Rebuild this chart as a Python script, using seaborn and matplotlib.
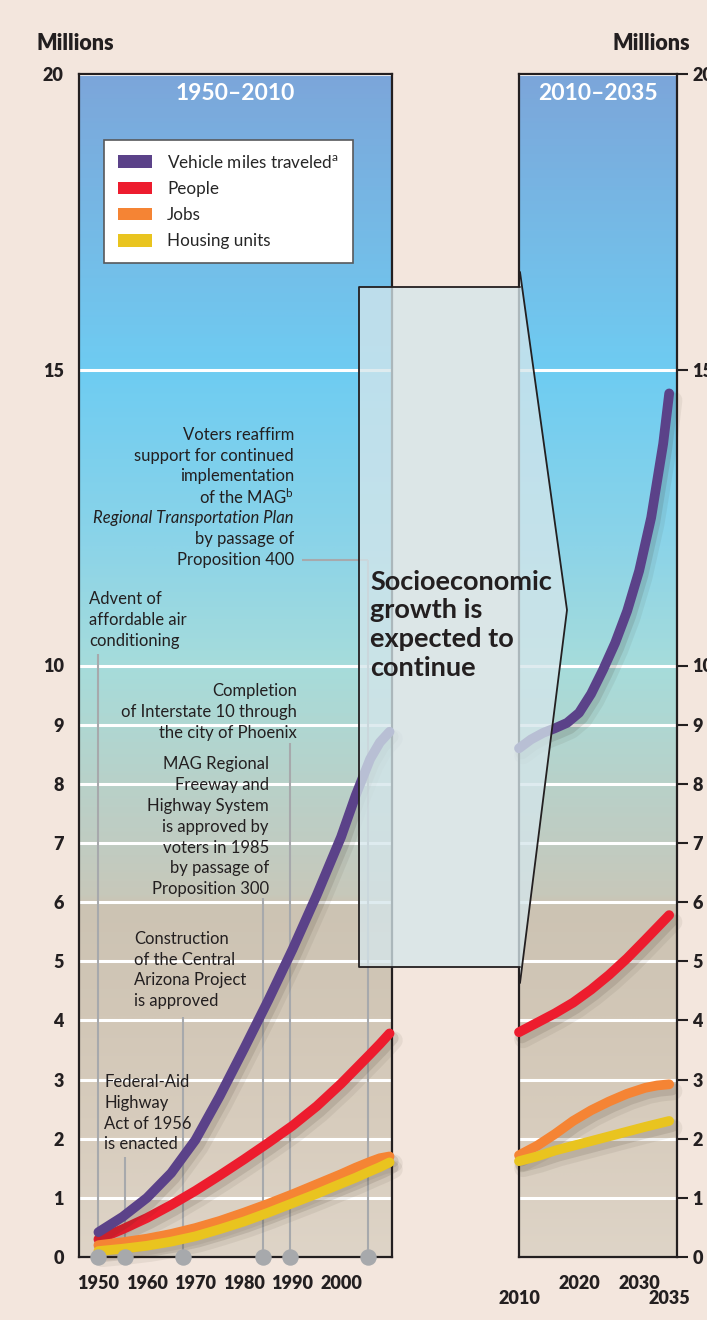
import numpy as np
import pandas as pd
import seaborn as sns
import matplotlib.pyplot as plt
import matplotlib.patheffects as pe
from matplotlib.colors import LinearSegmentedColormap
from matplotlib.patches import Polygon, Patch
from matplotlib.lines import Line2D

# ---- data (millions) ----
left_years = [1950, 1955, 1960, 1965, 1970, 1975, 1980, 1985, 1990, 1995, 2000, 2003, 2006, 2008, 2010]
vmt_left = [0.42, 0.68, 1.0, 1.42, 1.98, 2.72, 3.52, 4.34, 5.2, 6.12, 7.1, 7.8, 8.42, 8.7, 8.88]
people_left = [0.3, 0.47, 0.66, 0.88, 1.12, 1.38, 1.65, 1.93, 2.22, 2.55, 2.93, 3.18, 3.43, 3.6, 3.78]
jobs_left = [0.2, 0.25, 0.31, 0.39, 0.49, 0.61, 0.75, 0.9, 1.06, 1.23, 1.4, 1.51, 1.61, 1.67, 1.7]
housing_left = [0.1, 0.14, 0.19, 0.26, 0.35, 0.47, 0.6, 0.75, 0.91, 1.07, 1.24, 1.34, 1.45, 1.52, 1.6]

vmt_right_years = [2010, 2012, 2014, 2016, 2018, 2020, 2022, 2024, 2026, 2028, 2030, 2032, 2034, 2035]
vmt_right = [8.6, 8.75, 8.86, 8.94, 9.03, 9.2, 9.52, 9.93, 10.38, 10.92, 11.6, 12.5, 13.75, 14.6]
right_years = [2010, 2013, 2016, 2019, 2022, 2025, 2028, 2031, 2033, 2035]
people_right = [3.8, 3.96, 4.12, 4.3, 4.52, 4.77, 5.05, 5.36, 5.57, 5.78]
jobs_right = [1.72, 1.88, 2.08, 2.3, 2.48, 2.63, 2.76, 2.86, 2.9, 2.92]
housing_right = [1.62, 1.7, 1.8, 1.88, 1.96, 2.04, 2.12, 2.2, 2.25, 2.3]

series_names = ['Vehicle miles traveled$^{\\mathrm{a}}$', 'People', 'Jobs', 'Housing units']
series_colors = ['#5B4289', '#ED1C2E', '#F58434', '#E9C41F']

ytick_vals = [0, 1, 2, 3, 4, 5, 6, 7, 8, 9, 10, 15, 20]

# milestone markers on the time axis
ann_years = [1950, 1955.5, 1967.5, 1984, 1989.5, 2005.5]
ann_tops = [10.2, 1.69, 4.06, 6.07, 8.69, 11.78]

sns.set_style('white')
plt.rcParams['font.family'] = ['Lato', 'DejaVu Sans']
plt.rcParams['mathtext.fontset'] = 'custom'
plt.rcParams['mathtext.rm'] = 'Lato'
plt.rcParams['mathtext.it'] = 'Lato:italic'
plt.rcParams['mathtext.bf'] = 'Lato:bold'

ink = '#231F20'
bg = '#F3E6DD'
W, H = 707, 1320

fig = plt.figure(figsize=(W / 100, H / 100), dpi=100, facecolor=bg)


def px_rect(x0, y0, x1, y1):
    return [x0 / W, 1 - y1 / H, (x1 - x0) / W, (y1 - y0) / H]


ax1 = fig.add_axes(px_rect(79, 74, 392, 1257))
ax2 = fig.add_axes(px_rect(519, 74, 677, 1257))

stops = [(0, '#DED4C7'), (2, '#D8CDBE'), (4, '#D2C7B7'), (5.9, '#CCC3B3'), (6.1, '#C7C8BA'),
         (7, '#C0CCC2'), (8, '#B8D1C9'), (9, '#AFD7D2'), (10, '#A6DCDB'), (12, '#8CD4E8'),
         (15, '#6ECCF2'), (17, '#74BDE8'), (20, '#7CA6DA')]
cmap = LinearSegmentedColormap.from_list('sky', [(v / 20, c) for v, c in stops])
grad = np.linspace(0, 1, 400).reshape(-1, 1)


def style_axis(ax, xlim):
    ax.imshow(grad, extent=[xlim[0], xlim[1], 0, 20], origin='lower', aspect='auto',
              cmap=cmap, zorder=0)
    ax.set_xlim(xlim)
    ax.set_ylim(0, 20)
    ax.set_yticks(ytick_vals, labels=[str(v) for v in ytick_vals])
    ax.grid(axis='y', color='white', lw=2.2)
    ax.grid(axis='x', visible=False)
    ax.set_axisbelow(True)
    for s in ax.spines.values():
        s.set_visible(True)
        s.set_color(ink)
        s.set_linewidth(1.6)
    ax.tick_params(axis='both', which='both', direction='out', color=ink, width=1.5,
                   labelsize=13, labelcolor=ink)
    ax.set_xlabel('')
    ax.set_ylabel('')


style_axis(ax1, (1946, 2010.5))
style_axis(ax2, (2010, 2036.3))

shadow = [pe.SimpleLineShadow(offset=(3, -5), shadow_color='#3a2e20', alpha=0.07, linewidth=13),
          pe.SimpleLineShadow(offset=(2, -3.5), shadow_color='#3a2e20', alpha=0.12, linewidth=9),
          pe.Normal()]

order = [1, 0, 2, 3]
left_vals = [vmt_left, people_left, jobs_left, housing_left]
right_sets = [(vmt_right_years, vmt_right), (right_years, people_right),
              (right_years, jobs_right), (right_years, housing_right)]
for k, i in enumerate(order):
    sns.lineplot(x=left_years, y=left_vals[i], ax=ax1, color=series_colors[i], lw=7,
                 solid_capstyle='round', solid_joinstyle='round', path_effects=shadow,
                 zorder=3 + k * 0.1, legend=False, clip_on=False)
    xs, ys = right_sets[i]
    sns.lineplot(x=xs, y=ys, ax=ax2, color=series_colors[i], lw=7,
                 solid_capstyle='round', solid_joinstyle='round', path_effects=shadow,
                 zorder=3 + k * 0.1, legend=False, clip_on=False)

# milestone lines and dots
gray = '#A7A9AC'
ax1.vlines(ann_years, 0, ann_tops, color=gray, lw=1.5, zorder=2)
ax1.hlines(ann_tops[-1], 1992.0, ann_years[-1], color=gray, lw=1.5, zorder=2)
ax1.scatter(ann_years, [0] * len(ann_years), s=140, color=gray, zorder=6, clip_on=False,
            linewidths=0)

# annotation text
step = 0.352


def block(x, y0, lines, ha, italic=()):
    for i, ln in enumerate(lines):
        ax1.text(x, y0 - i * step, ln, ha=ha, va='center', fontsize=12, color=ink,
                 style='italic' if i in italic else 'normal', zorder=5)


block(1990.3, 13.9, ['Voters reaffirm', 'support for continued', 'implementation',
                     'of the MAG$^{\\mathrm{b}}$', 'Regional Transportation Plan',
                     'by passage of', 'Proposition 400'], 'right', italic=(4,))
block(1948.1, 11.12, ['Advent of', 'affordable air', 'conditioning'], 'left')
block(1990.9, 9.57, ['Completion', 'of Interstate 10 through', 'the city of Phoenix'], 'right')
block(1985.15, 8.33, ['MAG Regional', 'Freeway and', 'Highway System', 'is approved by',
                      'voters in 1985', 'by passage of', 'Proposition 300'], 'right')
block(1957.3, 5.38, ['Construction', 'of the Central', 'Arizona Project', 'is approved'], 'left')
block(1951.2, 2.96, ['Federal-Aid', 'Highway', 'Act of 1956', 'is enacted'], 'left')

# legend
handles = [Patch(facecolor=c, edgecolor='none', label=n) for c, n in zip(series_colors, series_names)]
leg = ax1.legend(handles=handles, loc='upper left', bbox_to_anchor=(25 / 313, 1117 / 1183),
                 frameon=True, fancybox=False, framealpha=1, edgecolor='#58595B',
                 fontsize=12.3, handlelength=2.0, handleheight=0.75, labelspacing=0.6,
                 borderpad=0.8, handletextpad=0.9, borderaxespad=0)
leg.get_frame().set_linewidth(1.2)
leg.set_zorder(7)

# axes ticks
ax1.set_xticks(list(range(1950, 2011, 10)), labels=['1950', '1960', '1970', '1980', '1990', '2000', ''])
ax1.tick_params(axis='x', length=8, pad=5)
ax1.tick_params(axis='y', length=8, pad=3)

ax2.set_xticks([2020, 2030], labels=['2020', '2030'])
ax2.set_xticks([2010, 2035], labels=['2010', '2035'], minor=True)
ax2.tick_params(axis='x', which='major', length=8, pad=5)
ax2.tick_params(axis='x', which='minor', length=21, pad=3)
ax2.tick_params(axis='y', left=False, right=True, labelleft=False, labelright=True, length=8, pad=3)

for ax in (ax1, ax2):
    for lab in ax.get_xticklabels(which='both') + ax.get_yticklabels():
        lab.set_fontweight('heavy')

# panel titles
ax1.text(0.5, 1163 / 1183, '1950–2010', transform=ax1.transAxes, ha='center', va='center',
         color='white', fontsize=16.5, fontweight='bold', zorder=5)
ax2.text(0.5, 1163 / 1183, '2010–2035', transform=ax2.transAxes, ha='center', va='center',
         color='white', fontsize=16.5, fontweight='bold', zorder=5)

fig.text(37 / W, 1 - 43 / H, 'Millions', ha='left', va='center', fontsize=15.5,
         fontweight='heavy', color=ink)
fig.text(690 / W, 1 - 43 / H, 'Millions', ha='right', va='center', fontsize=15.5,
         fontweight='heavy', color=ink)


# translucent "growth continues" arrow
def fp(x, y):
    return (x / W, 1 - y / H)


arrow_pts = [fp(359, 287), fp(520, 287), fp(520, 272), fp(567, 610), fp(520, 983),
             fp(520, 967), fp(359, 967)]
fig.add_artist(Polygon(arrow_pts, closed=True, transform=fig.transFigure, facecolor='#D5E6EB',
                       edgecolor='none', alpha=0.77, zorder=5))
for path in ([fp(520, 287), fp(359, 287), fp(359, 967), fp(520, 967)],
             [fp(520, 272), fp(567, 610), fp(520, 983)]):
    xs, ys = zip(*path)
    fig.add_artist(Line2D(xs, ys, transform=fig.transFigure, color=ink, lw=1.3, zorder=5.5))

for i, ln in enumerate(['Socioeconomic', 'growth is', 'expected to', 'continue']):
    fig.text(370 / W, 1 - (582 + i * 28.5) / H, ln, ha='left', va='center', fontsize=19.5,
             fontweight='bold', color=ink, zorder=6)

fig.savefig('out.png', dpi=100, facecolor=bg)
